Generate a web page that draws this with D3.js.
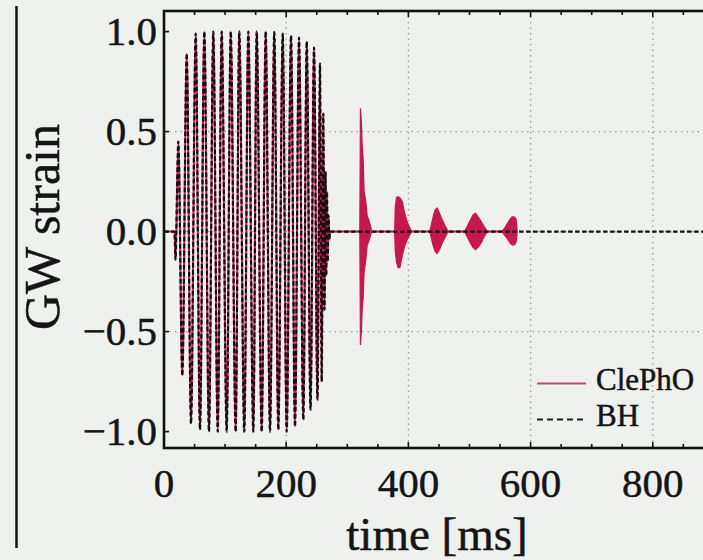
<!DOCTYPE html>
<html>
<head>
<meta charset="utf-8">
<script src="https://cdn.jsdelivr.net/npm/d3@7"></script>
<style>
  html, body { margin: 0; padding: 0; background: #eff1ef; }
  svg { display: block; }
  text { font-family: "Liberation Serif", "DejaVu Serif", serif; fill: #151515; stroke: #151515; stroke-width: 0.5px; }
</style>
</head>
<body>
<div id="chart"></div>
<script>
// inspiral extrema: [time ms, strain]
var inspiral = [
  [0, 0], [17.2, 0], [18.8, -0.14], [23.4, 0.45], [30.0, -0.72], [37.2, 0.89],
  [44.2, -0.96], [51.9, 0.99], [58.9, -0.99], [66.0, 1.0], [73.6, -1.0], [80.7, 1.0],
  [87.9, -1.0], [94.4, 1.0], [102.6, -1.0], [109.2, 1.0], [117.3, -1.0], [123.2, 1.0],
  [131.4, -1.0], [138.0, 1.0], [146.2, -1.0], [151.7, 1.0], [159.9, -1.0], [166.4, 1.0],
  [173.5, -1.0], [180.5, 0.997], [187.1, -0.99], [194.3, 0.99], [200.8, -1.0], [207.9, 0.98],
  [214.4, -0.975], [221.0, 0.97], [228.0, -0.94], [233.6, 0.95], [239.8, -0.89], [245.5, 0.92],
  [251.2, -0.84], [255.3, 0.84], [258.1, -0.75], [260.7, 0.59], [262.7, -0.39], [264.3, 0.3],
  [265.6, -0.22], [266.8, 0.2], [267.9, -0.15], [269.2, 0.08], [270.5, -0.04], [271.7, 0]
];

// ClePhO echoes: [time ms, upper envelope, lower envelope]
var echo1 = [[320.5, 0, 0], [321.5, 0.617, -0.567], [323, 0.55, -0.5], [324.5, 0.42, -0.38],
  [326, 0.36, -0.33], [327.5, 0.2, -0.2], [330, 0.16, -0.15], [332.5, 0.08, -0.07], [336, 0.05, -0.04], [340, 0, 0]];
var echo2 = [[377.5, 0, 0], [378.5, 0.12, -0.1], [380.5, 0.17, -0.15], [383, 0.175, -0.18], [386, 0.17, -0.18],
  [390, 0.15, -0.12], [394, 0.09, -0.07], [399, 0.04, -0.035], [405, 0, 0]];
var echo3 = [[435, 0, 0], [438, 0.04, -0.04], [441, 0.08, -0.075], [444, 0.11, -0.1], [447, 0.118, -0.11],
  [451, 0.09, -0.09], [455, 0.06, -0.06], [459, 0.035, -0.035], [465, 0, 0]];
var echo4 = [[492, 0, 0], [497, 0.03, -0.03], [502, 0.06, -0.06], [506, 0.085, -0.08], [510, 0.092, -0.09],
  [515, 0.07, -0.075], [520, 0.045, -0.05], [524, 0.025, -0.025], [529, 0, 0]];
var echo5 = [[553, 0, 0], [558, 0.02, -0.02], [562, 0.04, -0.035], [566, 0.06, -0.055], [570, 0.075, -0.067],
  [574, 0.072, -0.065], [576.5, 0.06, -0.05], [578, 0, 0]];

var clephoEnd = [578, 0];
var bhEnd = [1000, 0];

var xTicks = [0, 200, 400, 600, 800];
var xMinor = d3.range(0, 1001, 50);
var yTicks = [-1.0, -0.5, 0.0, 0.5, 1.0];
var xGrid = [200, 400, 600, 800];
var yGrid = [-0.5, 0, 0.5];
var seriesNames = ["ClePhO", "BH"];

var W = 703, H = 560;
var red = "#c8174f";

var svg = d3.select("#chart").append("svg").attr("width", W).attr("height", H);

var x = d3.scaleLinear().domain([0, 1000]).range([164, 775]);
var y = d3.scaleLinear().domain([-1.082, 1.103]).range([448, 11]);

svg.append("clipPath").attr("id", "clip")
  .append("rect").attr("x", 164).attr("y", 11).attr("width", 611).attr("height", 437);

// stray panel edge on the left
svg.append("line").attr("x1", 16.5).attr("x2", 16.5).attr("y1", 6).attr("y2", 548)
  .attr("stroke", "#111").attr("stroke-width", 2.5);

var plot = svg.append("g").attr("clip-path", "url(#clip)");

plot.selectAll(".vg").data(xGrid).enter().append("line")
  .attr("x1", d => x(d)).attr("x2", d => x(d)).attr("y1", 11).attr("y2", 448)
  .attr("stroke", "#9a9a9a").attr("stroke-width", 1.3).attr("stroke-dasharray", "1.5,4");
plot.selectAll(".hg").data(yGrid).enter().append("line")
  .attr("x1", 164).attr("x2", 775).attr("y1", d => y(d)).attr("y2", d => y(d))
  .attr("stroke", "#9a9a9a").attr("stroke-width", 1.3).attr("stroke-dasharray", "1.5,4");

var line = d3.line().x(d => x(d[0])).y(d => y(d[1])).curve(d3.curveMonotoneX);
var area = d3.area().x(d => x(d[0])).y0(d => y(d[2])).y1(d => y(d[1]));

plot.append("path").datum(inspiral.concat([clephoEnd]))
  .attr("d", line).attr("fill", "none").attr("stroke", red).attr("stroke-width", 2);

plot.selectAll(".echo").data([echo1, echo2, echo3, echo4, echo5]).enter().append("path")
  .attr("d", area).attr("fill", red).attr("stroke", red).attr("stroke-width", 1.2);

plot.append("path").datum(inspiral.concat([bhEnd]))
  .attr("d", line).attr("fill", "none").attr("stroke", "#111").attr("stroke-width", 2.2)
  .attr("stroke-dasharray", "4.5,2.5");

// frame
svg.append("rect").attr("x", 164).attr("y", 11).attr("width", 611).attr("height", 437)
  .attr("fill", "none").attr("stroke", "#111").attr("stroke-width", 2.6);

// ticks, inward on all sides
svg.selectAll(".xtb").data(xMinor).enter().append("line")
  .attr("x1", d => x(d)).attr("x2", d => x(d)).attr("y1", 448).attr("y2", d => d % 200 == 0 ? 442 : 444)
  .attr("stroke", "#111").attr("stroke-width", 1.6);
svg.selectAll(".xtt").data(xMinor).enter().append("line")
  .attr("x1", d => x(d)).attr("x2", d => x(d)).attr("y1", 11).attr("y2", d => d % 200 == 0 ? 17 : 15)
  .attr("stroke", "#111").attr("stroke-width", 1.6);
svg.selectAll(".ytl").data(yTicks).enter().append("line")
  .attr("x1", 164).attr("x2", 169).attr("y1", d => y(d)).attr("y2", d => y(d))
  .attr("stroke", "#111").attr("stroke-width", 1.6);

svg.selectAll(".xl").data(xTicks).enter().append("text")
  .attr("x", d => x(d)).attr("y", 497).attr("text-anchor", "middle")
  .style("font-size", "41px").text(d => d);
svg.selectAll(".yl").data(yTicks).enter().append("text")
  .attr("x", 157).attr("y", d => y(d) + 13.5).attr("text-anchor", "end")
  .style("font-size", "41px").text(d => d.toFixed(1).replace("-", "\u2212"));

svg.append("text").attr("x", 437).attr("y", 550).attr("text-anchor", "middle")
  .style("font-size", "47px").text("time [ms]");
svg.append("text").attr("transform", "translate(59,227) rotate(-90)").attr("text-anchor", "middle")
  .style("font-size", "50px").text("GW strain");

// legend
var leg = svg.append("g");
leg.append("line").attr("x1", 537).attr("x2", 586).attr("y1", 383.5).attr("y2", 383.5)
  .attr("stroke", "#b94a72").attr("stroke-width", 2.2);
leg.append("line").attr("x1", 537).attr("x2", 586).attr("y1", 419.5).attr("y2", 419.5)
  .attr("stroke", "#222").attr("stroke-width", 2).attr("stroke-dasharray", "6,4");
leg.selectAll("text").data(seriesNames).enter().append("text")
  .attr("x", 596).attr("y", (d, i) => 390 + i * 35.5)
  .style("font-size", "31px").text(d => d);
</script>
</body>
</html>
